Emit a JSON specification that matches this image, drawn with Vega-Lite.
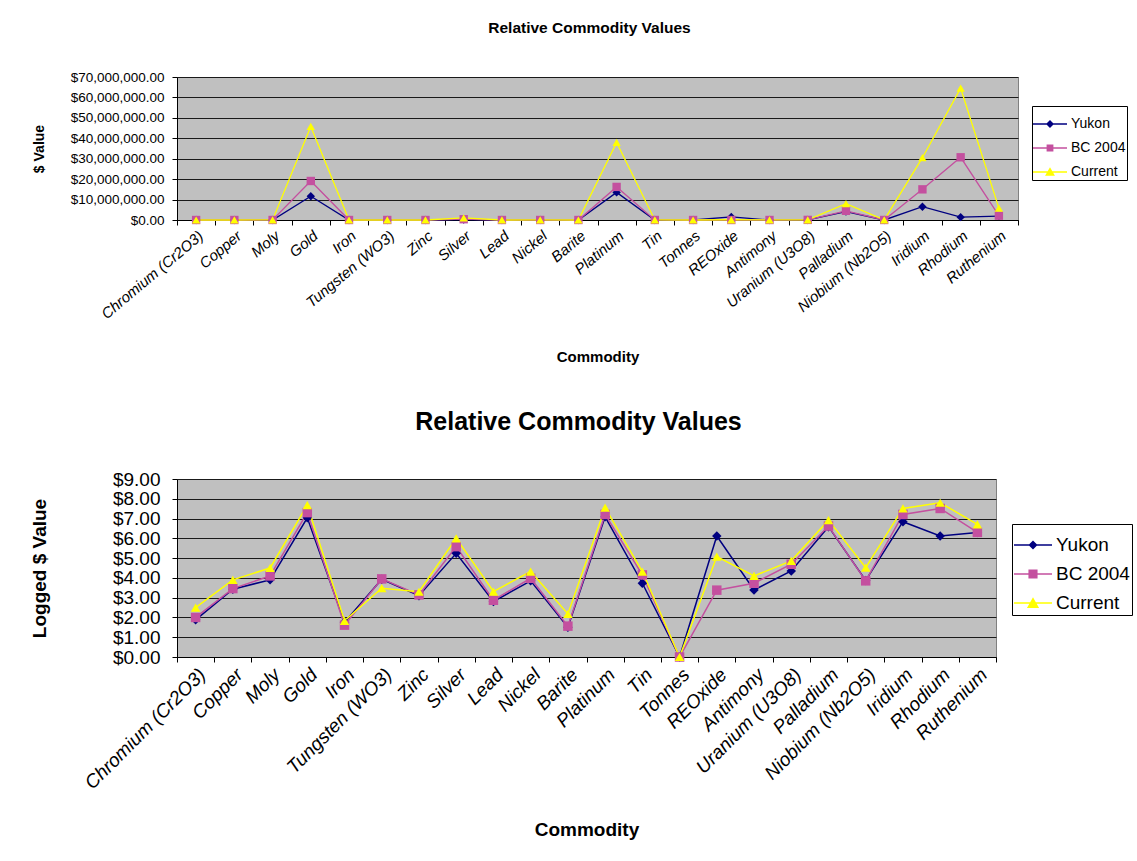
{
  "$schema": "https://vega.github.io/schema/vega-lite/v6.json",
  "background": "white",
  "padding": {"left": 29, "top": 20, "right": 0, "bottom": 0},
  "config": {
    "font": "Liberation Sans",
    "view": {"fill": "#C0C0C0", "stroke": "#808080", "strokeWidth": 1},
    "concat": {"spacing": 44}
  },
  "datasets": {
    "d": [
      {"c": "Chromium (Cr2O3)", "s": "Yukon", "v": 76, "l": 1.88},
      {"c": "Chromium (Cr2O3)", "s": "BC 2004", "v": 100, "l": 2.0},
      {"c": "Chromium (Cr2O3)", "s": "Current", "v": 316, "l": 2.5},
      {"c": "Copper", "s": "Yukon", "v": 2690, "l": 3.43},
      {"c": "Copper", "s": "BC 2004", "v": 2880, "l": 3.46},
      {"c": "Copper", "s": "Current", "v": 7940, "l": 3.9},
      {"c": "Moly", "s": "Yukon", "v": 7940, "l": 3.9},
      {"c": "Moly", "s": "BC 2004", "v": 12600, "l": 4.1},
      {"c": "Moly", "s": "Current", "v": 31600, "l": 4.5},
      {"c": "Gold", "s": "Yukon", "v": 11600000, "l": 7.04},
      {"c": "Gold", "s": "BC 2004", "v": 19100000, "l": 7.3},
      {"c": "Gold", "s": "Current", "v": 45800000, "l": 7.68},
      {"c": "Iron", "s": "Yukon", "v": 58, "l": 1.76},
      {"c": "Iron", "s": "BC 2004", "v": 41, "l": 1.61},
      {"c": "Iron", "s": "Current", "v": 68, "l": 1.83},
      {"c": "Tungsten (WO3)", "s": "Yukon", "v": 8510, "l": 3.93},
      {"c": "Tungsten (WO3)", "s": "BC 2004", "v": 8910, "l": 3.95},
      {"c": "Tungsten (WO3)", "s": "Current", "v": 3020, "l": 3.48},
      {"c": "Zinc", "s": "Yukon", "v": 1260, "l": 3.1},
      {"c": "Zinc", "s": "BC 2004", "v": 1380, "l": 3.14},
      {"c": "Zinc", "s": "Current", "v": 2000, "l": 3.3},
      {"c": "Silver", "s": "Yukon", "v": 174000, "l": 5.24},
      {"c": "Silver", "s": "BC 2004", "v": 380000, "l": 5.58},
      {"c": "Silver", "s": "Current", "v": 1000000, "l": 6.0},
      {"c": "Lead", "s": "Yukon", "v": 646, "l": 2.81},
      {"c": "Lead", "s": "BC 2004", "v": 741, "l": 2.87},
      {"c": "Lead", "s": "Current", "v": 2040, "l": 3.31},
      {"c": "Nickel", "s": "Yukon", "v": 7080, "l": 3.85},
      {"c": "Nickel", "s": "BC 2004", "v": 9550, "l": 3.98},
      {"c": "Nickel", "s": "Current", "v": 20900, "l": 4.32},
      {"c": "Barite", "s": "Yukon", "v": 32, "l": 1.51},
      {"c": "Barite", "s": "BC 2004", "v": 36, "l": 1.56},
      {"c": "Barite", "s": "Current", "v": 151, "l": 2.18},
      {"c": "Platinum", "s": "Yukon", "v": 13500000, "l": 7.09},
      {"c": "Platinum", "s": "BC 2004", "v": 16200000, "l": 7.21},
      {"c": "Platinum", "s": "Current", "v": 38000000, "l": 7.55},
      {"c": "Tin", "s": "Yukon", "v": 5370, "l": 3.73},
      {"c": "Tin", "s": "BC 2004", "v": 14100, "l": 4.15},
      {"c": "Tin", "s": "Current", "v": 20900, "l": 4.32},
      {"c": "Tonnes", "s": "Yukon", "v": 1, "l": 0},
      {"c": "Tonnes", "s": "BC 2004", "v": 1, "l": 0},
      {"c": "Tonnes", "s": "Current", "v": 1, "l": 0},
      {"c": "REOxide", "s": "Yukon", "v": 1500000, "l": 6.12},
      {"c": "REOxide", "s": "BC 2004", "v": 2400, "l": 3.38},
      {"c": "REOxide", "s": "Current", "v": 120000, "l": 5.08},
      {"c": "Antimony", "s": "Yukon", "v": 2450, "l": 3.39},
      {"c": "Antimony", "s": "BC 2004", "v": 5370, "l": 3.73},
      {"c": "Antimony", "s": "Current", "v": 12600, "l": 4.1},
      {"c": "Uranium (U3O8)", "s": "Yukon", "v": 22400, "l": 4.35},
      {"c": "Uranium (U3O8)", "s": "BC 2004", "v": 49000, "l": 4.69},
      {"c": "Uranium (U3O8)", "s": "Current", "v": 72400, "l": 4.86},
      {"c": "Palladium", "s": "Yukon", "v": 4100000, "l": 6.59},
      {"c": "Palladium", "s": "BC 2004", "v": 4500000, "l": 6.62},
      {"c": "Palladium", "s": "Current", "v": 8000000, "l": 6.92},
      {"c": "Niobium (Nb2O5)", "s": "Yukon", "v": 7410, "l": 3.87},
      {"c": "Niobium (Nb2O5)", "s": "BC 2004", "v": 7080, "l": 3.85},
      {"c": "Niobium (Nb2O5)", "s": "Current", "v": 33100, "l": 4.52},
      {"c": "Iridium", "s": "Yukon", "v": 6500000, "l": 6.84},
      {"c": "Iridium", "s": "BC 2004", "v": 15000000, "l": 7.21},
      {"c": "Iridium", "s": "Current", "v": 30500000, "l": 7.51},
      {"c": "Rhodium", "s": "Yukon", "v": 1400000, "l": 6.12},
      {"c": "Rhodium", "s": "BC 2004", "v": 30700000, "l": 7.51},
      {"c": "Rhodium", "s": "Current", "v": 64500000, "l": 7.8},
      {"c": "Ruthenium", "s": "Yukon", "v": 1900000, "l": 6.3},
      {"c": "Ruthenium", "s": "BC 2004", "v": 2100000, "l": 6.3},
      {"c": "Ruthenium", "s": "Current", "v": 5800000, "l": 6.71}
    ]
  },
  "vconcat": [
    {
      "width": 841,
      "height": 143,
      "title": {"text": "Relative Commodity Values", "fontSize": 15.5, "fontWeight": "bold", "color": "black", "anchor": "middle", "frame": "group", "dx": -8, "offset": 34},
      "data": {"name": "d"},
      "encoding": {
        "x": {
          "field": "c", "type": "nominal", "sort": null, "bandPosition": 0.5,
          "scale": {"type": "band", "paddingInner": 0, "paddingOuter": 0},
          "axis": {"title": "Commodity", "labelAngle": -40, "labelFontSize": 15, "labelFontStyle": "italic", "labelColor": "black", "labelPadding": 3, "labelOverlap": false, "labelLimit": 0, "tickBand": "extent", "tickSize": 5, "tickColor": "black", "domainColor": "black", "grid": false, "titleFontSize": 15, "titleFontWeight": "bold", "titleColor": "black", "titlePadding": 28}
        },
        "y": {
          "field": "v", "type": "quantitative",
          "scale": {"domain": [0, 70000000], "nice": false},
          "axis": {"title": "$ Value", "values": [0, 10000000, 20000000, 30000000, 40000000, 50000000, 60000000, 70000000], "format": "$,.2f", "labelFontSize": 13.5, "labelColor": "black", "labelPadding": 8, "labelOverlap": false, "tickSize": 5, "tickColor": "black", "domainColor": "black", "grid": true, "gridColor": "#1a1a1a", "gridWidth": 1.2, "titleFontSize": 14, "titleFontWeight": "bold", "titleColor": "black", "titlePadding": 24}
        }
      },
      "layer": [
        {
          "mark": {"type": "line", "strokeWidth": 1.3},
          "encoding": {"color": {"field": "s", "type": "nominal", "scale": {"domain": ["Yukon", "BC 2004", "Current"], "range": ["#000080", "#C4509F", "#FFFF00"]}, "legend": null}}
        },
        {
          "mark": {"type": "point", "filled": true, "opacity": 1, "size": 70},
          "encoding": {
            "color": {"field": "s", "type": "nominal", "scale": {"domain": ["Yukon", "BC 2004", "Current"], "range": ["#000080", "#C4509F", "#FFFF00"]}, "legend": null},
            "shape": {"field": "s", "type": "nominal", "scale": {"domain": ["Yukon", "BC 2004", "Current"], "range": ["diamond", "square", "triangle-up"]}, "legend": null}
          }
        },
        {
          "transform": [{"filter": "datum.v < 0"}],
          "mark": {"type": "point", "filled": true, "opacity": 1, "size": 1156},
          "encoding": {
            "color": {"field": "s", "type": "nominal", "scale": {"domain": ["Yukon", "BC 2004", "Current"], "range": ["#000080", "#C4509F", "#FFFF00"]},
              "legend": {"orient": "none", "legendX": 855, "legendY": 29, "title": null, "strokeColor": "black", "fillColor": "white", "padding": 1, "labelFontSize": 14, "labelColor": "black", "symbolSize": 1156, "symbolStrokeWidth": 0, "labelOffset": 4, "rowPadding": 0}},
            "shape": {"field": "s", "type": "nominal", "scale": {"domain": ["Yukon", "BC 2004", "Current"], "range": ["M-1,-0.04H1V0.04H-1Z M0,-0.235L0.235,0L0,0.235L-0.235,0Z", "M-1,-0.04H1V0.04H-1Z M-0.2,-0.2H0.2V0.2H-0.2Z", "M-1,-0.04H1V0.04H-1Z M0,-0.28L0.29,0.22H-0.29Z"]},
              "legend": {"orient": "none", "legendX": 855, "legendY": 29, "title": null, "strokeColor": "black", "fillColor": "white", "padding": 1, "labelFontSize": 14, "labelColor": "black", "symbolSize": 1156, "symbolStrokeWidth": 0, "labelOffset": 4, "rowPadding": 0}}
          }
        }
      ],
      "resolve": {"scale": {"color": "independent", "shape": "independent"}}
    },
    {
      "width": 819,
      "height": 178,
      "title": {"text": "Relative Commodity Values", "fontSize": 25, "fontWeight": "bold", "color": "black", "anchor": "middle", "frame": "group", "dx": -8, "offset": 35},
      "data": {"name": "d"},
      "encoding": {
        "x": {
          "field": "c", "type": "nominal", "sort": null, "bandPosition": 0.5,
          "scale": {"type": "band", "paddingInner": 0, "paddingOuter": 0},
          "axis": {"title": "Commodity", "labelAngle": -45, "labelFontSize": 19, "labelFontStyle": "italic", "labelColor": "black", "labelPadding": 3, "labelOverlap": false, "labelLimit": 0, "tickBand": "extent", "tickSize": 5, "tickColor": "black", "domainColor": "black", "grid": false, "titleFontSize": 19, "titleFontWeight": "bold", "titleColor": "black", "titlePadding": 28}
        },
        "y": {
          "field": "l", "type": "quantitative",
          "scale": {"domain": [0, 9], "nice": false},
          "axis": {"title": "Logged $ Value", "values": [0, 1, 2, 3, 4, 5, 6, 7, 8, 9], "format": "$.2f", "labelFontSize": 19, "labelColor": "black", "labelPadding": 12, "labelOverlap": false, "tickSize": 5, "tickColor": "black", "domainColor": "black", "grid": true, "gridColor": "#1a1a1a", "gridWidth": 1.2, "titleFontSize": 19, "titleFontWeight": "bold", "titleColor": "black", "titlePadding": 63}
        }
      },
      "layer": [
        {
          "mark": {"type": "line", "strokeWidth": 1.5},
          "encoding": {"color": {"field": "s", "type": "nominal", "scale": {"domain": ["Yukon", "BC 2004", "Current"], "range": ["#000080", "#C4509F", "#FFFF00"]}, "legend": null}}
        },
        {
          "mark": {"type": "point", "filled": true, "opacity": 1, "size": 90},
          "encoding": {
            "color": {"field": "s", "type": "nominal", "scale": {"domain": ["Yukon", "BC 2004", "Current"], "range": ["#000080", "#C4509F", "#FFFF00"]}, "legend": null},
            "shape": {"field": "s", "type": "nominal", "scale": {"domain": ["Yukon", "BC 2004", "Current"], "range": ["diamond", "square", "triangle-up"]}, "legend": null}
          }
        },
        {
          "transform": [{"filter": "datum.v < 0"}],
          "mark": {"type": "point", "filled": true, "opacity": 1, "size": 1444},
          "encoding": {
            "color": {"field": "s", "type": "nominal", "scale": {"domain": ["Yukon", "BC 2004", "Current"], "range": ["#000080", "#C4509F", "#FFFF00"]},
              "legend": {"orient": "none", "legendX": 835, "legendY": 45, "title": null, "strokeColor": "black", "fillColor": "white", "padding": 2, "labelFontSize": 19, "labelColor": "black", "symbolSize": 1444, "symbolStrokeWidth": 0, "labelOffset": 4, "rowPadding": 0}},
            "shape": {"field": "s", "type": "nominal", "scale": {"domain": ["Yukon", "BC 2004", "Current"], "range": ["M-1,-0.04H1V0.04H-1Z M0,-0.24L0.24,0L0,0.24L-0.24,0Z", "M-1,-0.04H1V0.04H-1Z M-0.24,-0.24H0.24V0.24H-0.24Z", "M-1,-0.04H1V0.04H-1Z M0,-0.3L0.32,0.26H-0.32Z"]},
              "legend": {"orient": "none", "legendX": 835, "legendY": 45, "title": null, "strokeColor": "black", "fillColor": "white", "padding": 2, "labelFontSize": 19, "labelColor": "black", "symbolSize": 1444, "symbolStrokeWidth": 0, "labelOffset": 4, "rowPadding": 0}}
          }
        }
      ],
      "resolve": {"scale": {"color": "independent", "shape": "independent"}}
    }
  ]
}
